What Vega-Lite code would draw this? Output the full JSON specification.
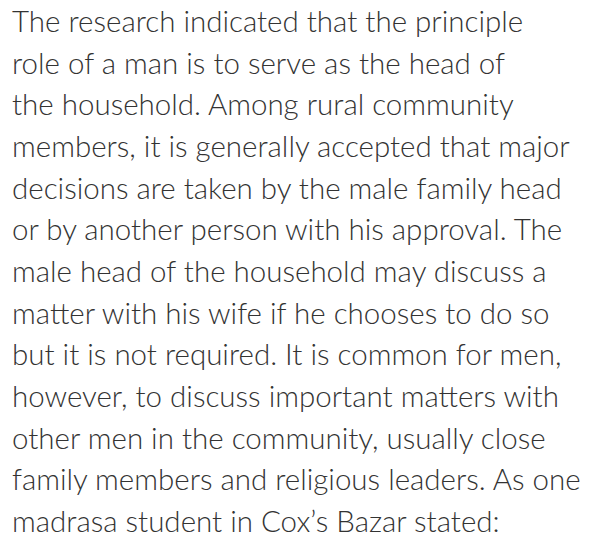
{
  "$schema": "https://vega.github.io/schema/vega-lite/v6.json",
  "width": 601,
  "height": 548,
  "autosize": {"type": "none"},
  "padding": 0,
  "background": "#ffffff",
  "config": {"view": {"stroke": null}},
  "data": {
    "values": [
      {"line": 1, "text": "The research indicated that the principle"},
      {"line": 2, "text": "role of a man is to serve as the head of"},
      {"line": 3, "text": "the household. Among rural community"},
      {"line": 4, "text": "members, it is generally accepted that major"},
      {"line": 5, "text": "decisions are taken by the male family head"},
      {"line": 6, "text": "or by another person with his approval. The"},
      {"line": 7, "text": "male head of the household may discuss a"},
      {"line": 8, "text": "matter with his wife if he chooses to do so"},
      {"line": 9, "text": "but it is not required. It is common for men,"},
      {"line": 10, "text": "however, to discuss important matters with"},
      {"line": 11, "text": "other men in the community, usually close"},
      {"line": 12, "text": "family members and religious leaders. As one"},
      {"line": 13, "text": "madrasa student in Cox’s Bazar stated:"}
    ]
  },
  "mark": {
    "type": "text",
    "align": "left",
    "baseline": "alphabetic",
    "font": "Lato",
    "fontWeight": 300,
    "fontSize": 29.5,
    "color": "#333333"
  },
  "encoding": {
    "x": {"datum": 0.02, "type": "quantitative", "scale": {"domain": [0, 1]}, "axis": null},
    "y": {"field": "line", "type": "quantitative", "scale": {"domain": [0.232, 13.384], "reverse": true}, "axis": null},
    "text": {"field": "text", "type": "nominal"}
  }
}
